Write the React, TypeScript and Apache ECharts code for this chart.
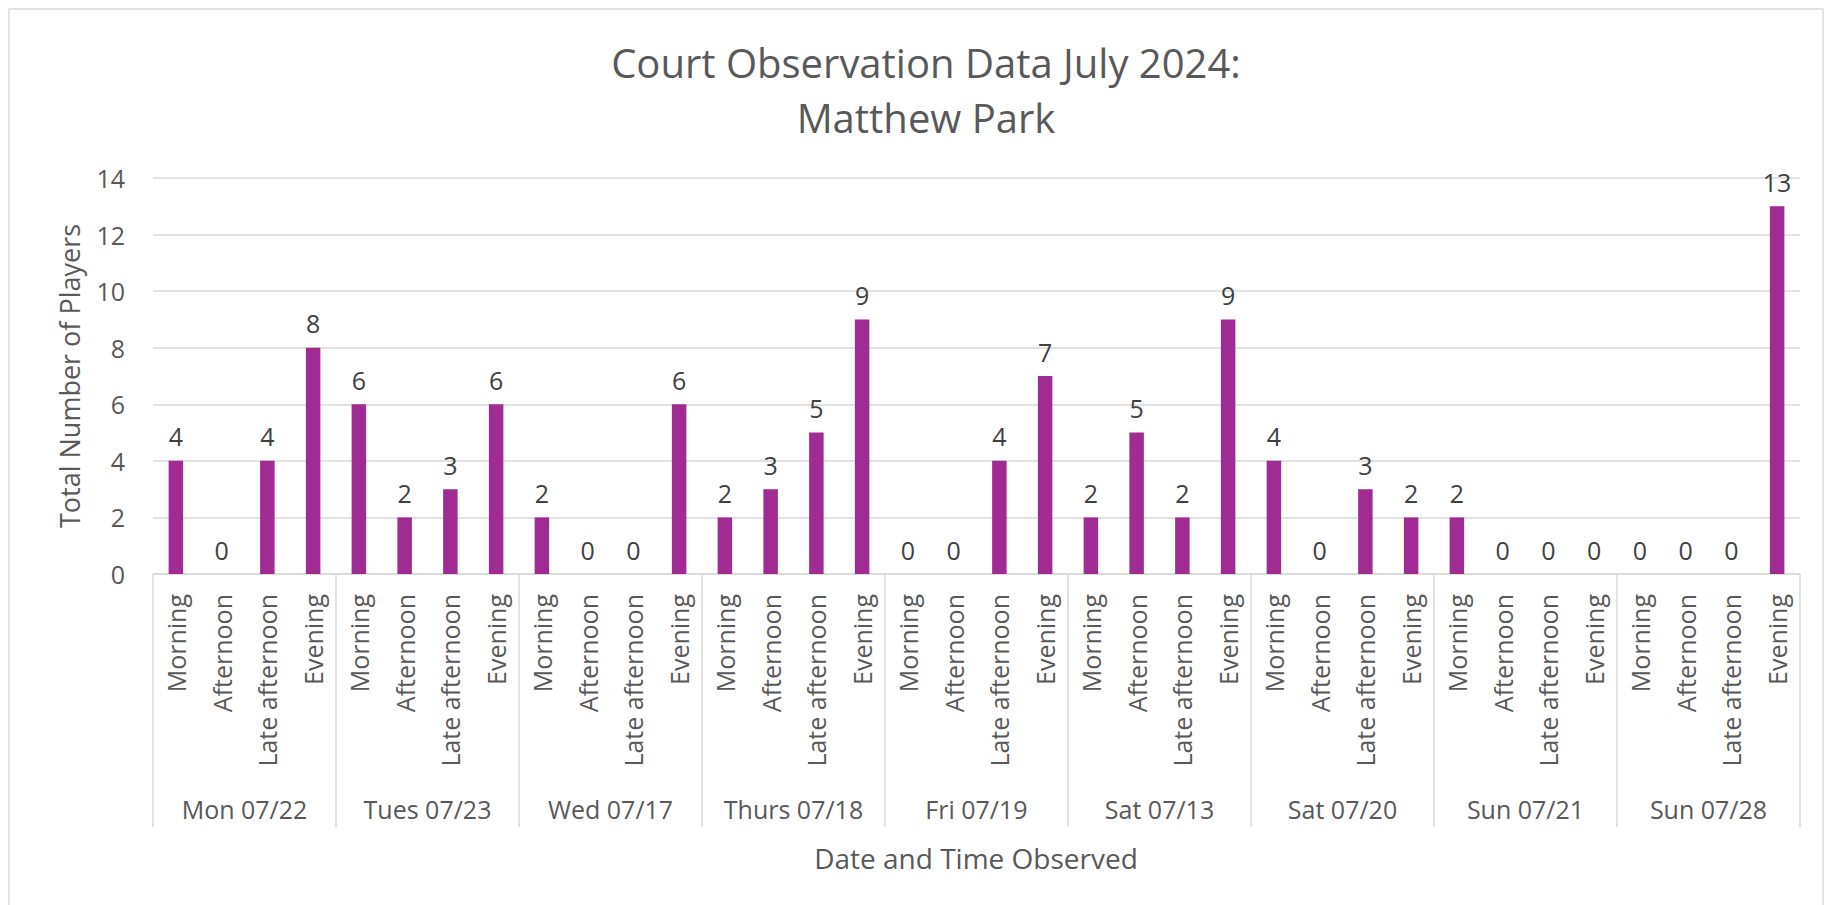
import React, { useEffect, useRef } from "react";
import * as echarts from "echarts";

const days = [
  "Mon 07/22",
  "Tues 07/23",
  "Wed 07/17",
  "Thurs 07/18",
  "Fri 07/19",
  "Sat 07/13",
  "Sat 07/20",
  "Sun 07/21",
  "Sun 07/28",
];
const timeSlots = ["Morning", "Afternoon", "Late afternoon", "Evening"];
const playerCounts = [
  4, 0, 4, 8,
  6, 2, 3, 6,
  2, 0, 0, 6,
  2, 3, 5, 9,
  0, 0, 4, 7,
  2, 5, 2, 9,
  4, 0, 3, 2,
  2, 0, 0, 0,
  0, 0, 0, 13,
];
const yTicks = { min: 0, max: 14, interval: 2 };
const titleText = "Court Observation Data July 2024:\nMatthew Park";
const yAxisTitle = "Total Number of Players";
const xAxisTitle = "Date and Time Observed";

const FONT = "'Open Sans', 'Noto Sans', sans-serif";
const TEXT = "#595959";
const GRID = "#d9d9d9";
const BAR = "#A02B93";

export default function App() {
  const ref = useRef<HTMLDivElement>(null);
  useEffect(() => {
    if (!ref.current) return;
    const chart = echarts.init(ref.current, null, { renderer: "svg" });
    const slotLabels = days.flatMap(() => timeSlots);
    chart.setOption({
      animation: false,
      backgroundColor: "#ffffff",
      textStyle: { fontFamily: FONT },
      title: {
        text: titleText,
        left: 921,
        top: 30,
        textAlign: "center",
        textStyle: {
          fontFamily: FONT,
          fontSize: 40,
          fontWeight: "normal",
          color: TEXT,
          lineHeight: 55,
        },
      },
      grid: { left: 153, right: 27, top: 178, bottom: 331, containLabel: false },
      xAxis: [
        {
          type: "category",
          data: slotLabels,
          position: "bottom",
          axisLine: { lineStyle: { color: GRID, width: 1.5 } },
          axisTick: { show: false },
          axisLabel: {
            interval: 0,
            rotate: 90,
            margin: 20,
            fontSize: 25,
            color: TEXT,
            fontFamily: FONT,
          },
        },
        {
          type: "category",
          data: days,
          position: "bottom",
          axisLine: { show: false },
          axisTick: {
            show: true,
            interval: 0,
            length: 253,
            lineStyle: { color: GRID, width: 1.5 },
          },
          axisLabel: {
            interval: 0,
            margin: 222,
            fontSize: 25,
            color: TEXT,
            fontFamily: FONT,
          },
        },
      ],
      yAxis: {
        type: "value",
        min: yTicks.min,
        max: yTicks.max,
        interval: yTicks.interval,
        name: yAxisTitle,
        nameLocation: "middle",
        nameGap: 70,
        nameTextStyle: { fontSize: 27, color: TEXT, fontFamily: FONT },
        axisLine: { show: false },
        axisTick: { show: false },
        axisLabel: { fontSize: 25, color: TEXT, margin: 28, fontFamily: FONT },
        splitLine: { lineStyle: { color: GRID, width: 1.5 } },
      },
      graphic: [
        {
          type: "rect",
          silent: true,
          shape: { x: 9, y: 9, width: 1814, height: 920 },
          style: { fill: "none", stroke: GRID, lineWidth: 1.5 },
          z: -1,
        },
        {
          type: "text",
          x: 976,
          y: 858,
          style: {
            text: xAxisTitle,
            fontSize: 28,
            fill: TEXT,
            fontFamily: FONT,
            align: "center",
            verticalAlign: "middle",
          },
        },
      ],
      series: [
        {
          type: "bar",
          xAxisIndex: 0,
          data: playerCounts,
          barWidth: 14.5,
          itemStyle: { color: BAR },
          label: {
            show: true,
            position: "top",
            distance: 12,
            fontSize: 25,
            color: "#404040",
            fontFamily: FONT,
          },
        },
      ],
    });
    return () => chart.dispose();
  }, []);
  return (
    <div
      ref={ref}
      style={{ position: "absolute", left: 0, top: 0, width: 1827, height: 905 }}
    />
  );
}
